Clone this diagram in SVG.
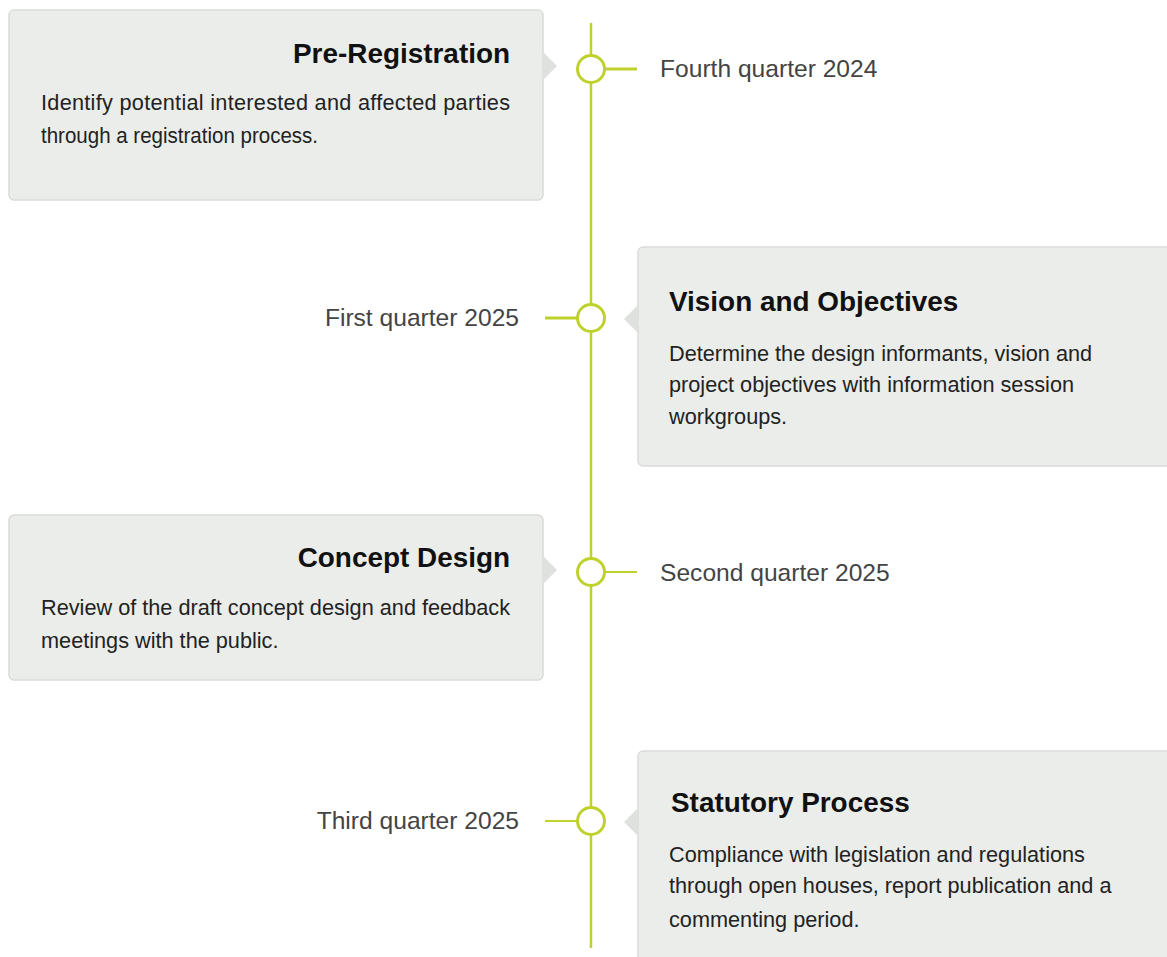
<svg xmlns="http://www.w3.org/2000/svg" width="1167" height="957" viewBox="0 0 1167 957">
<style>
.box{fill:#ebedea;stroke:#dadcd9;stroke-width:1.5}
.ptr{fill:#dfe1de}
.axis{stroke:#bfd22b;fill:none}
.dot{fill:#fff;stroke:#bfd22b;stroke-width:3}
.title{font-family:"Liberation Sans",Arial,sans-serif;font-weight:bold;font-size:27.9px;fill:#111}
.body{font-family:"Liberation Sans",Arial,sans-serif;font-size:21.7px;fill:#222}
.date{font-family:"Liberation Sans",Arial,sans-serif;font-size:24.6px;fill:#444}
</style>
<rect width="1167" height="957" fill="#fff"/>
<g id="connectors">
<line class="axis" x1="591" y1="23" x2="591" y2="948" stroke-width="2.5"/>
<line class="axis" x1="604" y1="69" x2="637" y2="69" stroke-width="3"/>
<line class="axis" x1="545" y1="318" x2="578" y2="318" stroke-width="3"/>
<line class="axis" x1="604" y1="572" x2="637" y2="572" stroke-width="1.8"/>
<line class="axis" x1="545" y1="821" x2="578" y2="821" stroke-width="1.8"/>
</g>
<g id="step1">
<rect class="box" x="9" y="10" width="534" height="190" rx="5"/>
<polygon class="ptr" points="543,52 557,66 543,80"/>
<text class="title" x="510" y="63" text-anchor="end">Pre-Registration</text>
<text class="body" x="41" y="110" textLength="469" lengthAdjust="spacing">Identify potential interested and affected parties</text>
<text class="body" x="41" y="143" textLength="277" lengthAdjust="spacingAndGlyphs">through a registration process.</text>
<circle class="dot" cx="591" cy="69" r="13.5"/>
<text class="date" x="660" y="77">Fourth quarter 2024</text>
</g>
<g id="step2">
<rect class="box" x="638" y="247" width="536" height="219" rx="5"/>
<polygon class="ptr" points="638,305 624,319 638,333"/>
<text class="title" x="669" y="311">Vision and Objectives</text>
<text class="body" x="669" y="361">Determine the design informants, vision and</text>
<text class="body" x="669" y="392">project objectives with information session</text>
<text class="body" x="669" y="424">workgroups.</text>
<circle class="dot" cx="591" cy="318" r="13.5"/>
<text class="date" x="519" y="326" text-anchor="end">First quarter 2025</text>
</g>
<g id="step3">
<rect class="box" x="9" y="515" width="534" height="165" rx="5"/>
<polygon class="ptr" points="543,556 557,570 543,584"/>
<text class="title" x="510" y="567" text-anchor="end">Concept Design</text>
<text class="body" x="41" y="615">Review of the draft concept design and feedback</text>
<text class="body" x="41" y="648">meetings with the public.</text>
<circle class="dot" cx="591" cy="572" r="13.5"/>
<text class="date" x="660" y="581">Second quarter 2025</text>
</g>
<g id="step4">
<rect class="box" x="638" y="751" width="536" height="220" rx="5"/>
<polygon class="ptr" points="638,808 624,822 638,836"/>
<text class="title" x="671" y="812">Statutory Process</text>
<text class="body" x="669" y="862">Compliance with legislation and regulations</text>
<text class="body" x="669" y="893">through open houses, report publication and a</text>
<text class="body" x="669" y="927">commenting period.</text>
<circle class="dot" cx="591" cy="821" r="13.5"/>
<text class="date" x="519" y="829" text-anchor="end">Third quarter 2025</text>
</g>
</svg>
